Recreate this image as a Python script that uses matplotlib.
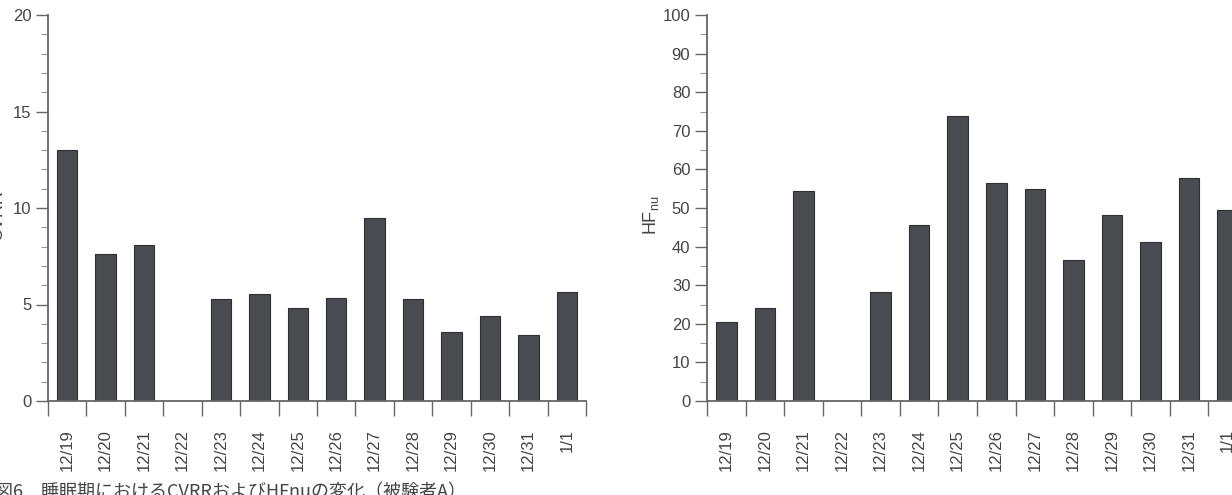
import matplotlib
matplotlib.use("Agg")
import matplotlib.pyplot as plt
from matplotlib.ticker import MultipleLocator, FixedLocator
import numpy as np

plt.rcParams['font.family'] = ['Liberation Sans', 'Noto Sans CJK JP', 'DejaVu Sans']
plt.rcParams['mathtext.fontset'] = 'custom'
plt.rcParams['mathtext.rm'] = 'Liberation Sans'

dates = ["12/19", "12/20", "12/21", "12/22", "12/23", "12/24", "12/25",
         "12/26", "12/27", "12/28", "12/29", "12/30", "12/31", "1/1"]
cvrr = [13.0, 7.6, 8.1, 0.0, 5.3, 5.55, 4.8, 5.35, 9.5, 5.3, 3.6, 4.4, 3.4, 5.65]
hfnu = [20.5, 24.0, 54.5, 0.0, 28.3, 45.5, 73.9, 56.4, 54.9, 36.5, 48.1, 41.2, 57.8, 49.4]

W, H = 1232, 495
fig = plt.figure(figsize=(W/100, H/100), dpi=100)

bar_color = "#4a4b51"
edge_color = "#2e2f33"
axis_color = "#666666"
text_color = "#444444"

def make_axes(rect, values, ymax, major, minor, ylabel, ylabel_x):
    ax = fig.add_axes(rect)
    x = np.arange(len(values))
    ax.bar(x, values, width=0.53, color=bar_color, edgecolor=edge_color, linewidth=0.8)
    ax.set_xlim(-0.5, len(values) - 0.5)
    ax.set_ylim(0, ymax)
    for s in ("top", "right"):
        ax.spines[s].set_visible(False)
    for s in ("left", "bottom"):
        ax.spines[s].set_color(axis_color)
        ax.spines[s].set_linewidth(1.3)
    ax.yaxis.set_major_locator(MultipleLocator(major))
    ax.yaxis.set_minor_locator(MultipleLocator(minor))
    ax.tick_params(axis="y", which="major", length=9, width=1.0, color=axis_color,
                   labelsize=12, labelcolor=text_color, pad=3)
    ax.tick_params(axis="y", which="minor", length=5, width=0.8, color="#999999")
    ax.set_xticks(x)
    ax.set_xticklabels(dates, rotation=90, fontsize=12, color=text_color)
    ax.xaxis.set_minor_locator(FixedLocator(np.arange(-0.5, len(values), 1.0)))
    ax.tick_params(axis="x", which="major", length=0, pad=20)
    ax.tick_params(axis="x", which="minor", length=11, width=1.0, color=axis_color)
    ax.set_ylabel(ylabel, fontsize=13, color=text_color)
    ax.yaxis.set_label_coords(ylabel_x, 0.48)
    return ax

ax1 = make_axes([48/W, 1 - 401/H, 538/W, 386/H], cvrr, 20, 5, 1, "CVRR", -0.078)
ax2 = make_axes([707/W, 1 - 401/H, 540/W, 386/H], hfnu, 100, 10, 5, r"HF$_{\rm nu}$", -0.085)

fig.text(-0.004, -0.012, "図6　睡眠期におけるCVRRおよびHFnuの変化（被験者A）",
         fontsize=13, color=text_color, ha="left", va="bottom",
         family=['Noto Sans CJK JP', 'DejaVu Sans'])

fig.savefig("out.png", dpi=100)
